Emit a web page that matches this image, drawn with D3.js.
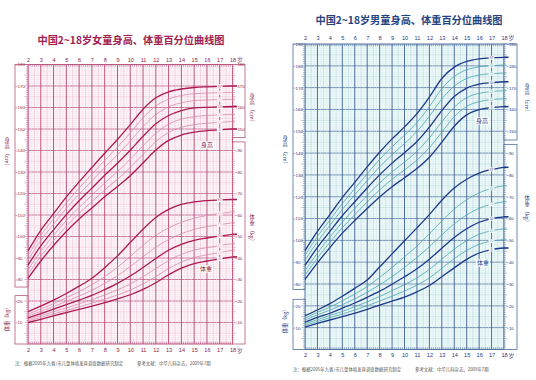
<!DOCTYPE html>
<html><head><meta charset="utf-8">
<script src="https://cdn.jsdelivr.net/npm/d3@7"></script>
<style>html,body{margin:0;padding:0;background:#fff;}svg{display:block;font-family:"Noto Sans CJK SC","Noto Sans",sans-serif;}</style>
</head><body><svg id="c" width="536" height="380"></svg>
<script>
// ---------- data ----------
const ages = [2,3,4,5,6,7,8,9,10,11,12,13,14,15,16,17,18];
const percentiles = ["3","10","25","50","75","90","97"];
const boldPercentiles = ["3","50","97"];

const girlsHeight = [
  [80.5, 88.6, 95.8,102.3,108.1,113.3,118.5,123.3,128.3,134.2,140.2,144.7,147.2,148.5,149.2,149.6,150.0],
  [82.5, 90.8, 98.1,104.8,110.8,116.2,121.6,126.7,132.1,138.2,144.1,148.4,150.8,152.0,152.7,153.1,153.5],
  [84.5, 93.1,100.6,107.4,113.5,119.2,124.9,130.2,135.9,142.2,148.0,152.2,154.6,155.7,156.3,156.6,156.8],
  [86.7, 95.6,103.1,110.2,116.6,122.5,128.5,134.1,140.1,146.6,152.4,156.3,158.6,159.8,160.1,160.3,160.5],
  [89.0, 98.2,105.7,113.1,119.7,125.9,132.1,138.0,144.4,151.1,156.7,160.3,162.2,163.2,163.5,163.7,163.8],
  [91.1,100.5,108.2,115.7,122.5,129.0,135.4,141.6,148.2,155.2,160.7,163.9,165.6,166.4,166.7,166.9,167.0],
  [93.3,102.9,110.6,118.4,125.4,132.1,138.7,145.1,152.0,159.2,164.5,167.3,168.6,169.3,169.6,169.8,170.0]
];
const girlsWeight = [
  [10.0,11.5,13.1,14.6,16.1,17.6,19.2,21.0,22.9,25.4,28.5,32.2,35.3,37.4,38.6,39.6,40.5],
  [10.7,12.4,14.0,15.6,17.3,19.0,20.8,22.8,25.1,28.0,31.4,35.1,38.1,40.2,41.5,42.5,43.6],
  [11.4,13.2,15.0,16.8,18.7,20.6,22.8,25.2,27.9,31.3,35.1,38.8,41.7,43.7,44.8,45.8,46.7],
  [12.1,14.1,16.2,18.3,20.4,22.6,25.3,28.2,31.6,35.6,39.8,43.6,46.3,48.2,49.3,50.2,51.0],
  [13.0,15.2,17.4,19.8,22.3,25.0,28.2,31.8,36.0,40.6,45.0,48.6,51.3,53.3,54.6,55.5,56.4],
  [13.9,16.3,18.8,21.5,24.4,27.6,31.4,35.7,40.7,45.9,50.5,54.0,56.6,58.5,59.8,60.7,61.5],
  [15.0,17.6,20.4,23.5,26.9,30.6,35.5,41.0,47.2,53.4,58.8,62.6,64.9,66.1,66.7,67.0,67.2]
];
const boysHeight = [
  [82.1, 89.7, 96.7,103.3,109.1,114.6,119.9,124.6,128.7,132.9,138.1,145.0,152.3,157.5,159.9,160.9,161.3],
  [84.1, 91.9, 99.1,105.8,111.8,117.6,123.1,128.0,132.3,136.8,142.5,149.6,156.7,161.4,163.6,164.5,164.9],
  [86.1, 94.2,101.4,108.4,114.6,120.6,126.3,131.4,135.9,140.8,147.0,154.3,161.0,165.4,167.4,168.2,168.6],
  [88.5, 96.8,104.1,111.3,117.7,124.0,130.0,135.4,140.2,145.3,151.9,159.5,165.9,169.8,171.6,172.3,172.7],
  [90.9, 99.4,106.9,114.2,120.9,127.4,133.7,139.3,144.4,149.9,156.9,164.8,170.7,174.2,175.8,176.4,176.7],
  [93.1,101.8,109.3,116.9,123.7,130.5,137.1,142.9,148.2,154.0,161.3,169.5,175.1,178.2,179.5,180.1,180.4],
  [95.3,104.1,111.8,119.6,126.6,133.7,140.4,146.5,152.0,158.1,165.7,174.2,179.4,182.0,183.2,183.7,183.9]
];
const boysWeight = [
  [10.2,11.9,13.5,15.0,16.6,18.4,20.3,22.1,24.0,26.4,29.3,33.3,37.4,41.3,44.2,45.8,46.5],
  [11.0,12.8,14.6,16.2,18.1,20.0,22.2,24.4,26.8,29.5,32.8,37.2,41.6,45.4,48.2,49.7,50.3],
  [11.7,13.7,15.6,17.4,19.6,21.8,24.3,26.9,29.7,32.8,36.7,41.4,46.0,49.9,52.8,54.4,55.3],
  [12.5,14.7,16.6,18.9,21.3,23.9,26.7,29.9,33.3,37.0,41.4,46.4,51.3,55.3,58.3,60.0,60.8],
  [13.5,15.9,18.0,20.5,23.2,26.2,29.6,33.4,37.6,42.1,47.1,52.5,57.6,61.7,64.7,66.6,67.7],
  [14.4,17.0,19.4,22.3,25.4,28.8,33.0,37.6,42.4,47.4,53.0,58.9,64.4,68.6,71.8,73.8,75.1],
  [15.5,18.1,21.0,24.4,28.0,31.8,37.8,43.8,49.8,55.7,61.8,68.4,74.0,78.0,80.8,82.5,83.5]
];
const girlsTitle = "中国2~18岁女童身高、体重百分位曲线图";
const boysTitle = "中国2~18岁男童身高、体重百分位曲线图";
const footNote = "注：根据2005年九省/市儿童体格发育调查数据研究制定";
const footRef = "参考文献：中华儿科杂志，2009年7期";

// ---------- drawing ----------
const svg = d3.select("#c");

function drawChart(cfg) {
  const g = svg.append("g");
  const x = d3.scaleLinear().domain([2, 18]).range([cfg.x0, cfg.x1]);
  const yH = d3.scaleLinear().domain([cfg.hBot, cfg.hTop]).range([cfg.yBot, cfg.yTop]);
  const yB = yH(50);
  const yW = d3.scaleLinear().domain([0, cfg.hTop - 50]).range([yB, cfg.yTop]);
  const c = cfg.col;

  g.append("text").attr("x", cfg.titleX).attr("y", cfg.titleY).attr("text-anchor", "middle")
    .attr("font-size", 10.2).attr("font-weight", 700).attr("fill", c.title).text(cfg.title);

  g.append("rect").attr("x", cfg.x0).attr("y", cfg.yTop).attr("width", cfg.x1 - cfg.x0)
    .attr("height", yB - cfg.yTop).attr("fill", c.bg);

  const hLines = d3.range(51, cfg.hTop);
  g.append("g").selectAll("line").data(hLines).join("line")
    .attr("x1", cfg.x0).attr("x2", cfg.x1).attr("y1", d => yH(d)).attr("y2", d => yH(d))
    .attr("stroke", d => d % 10 === 0 ? c.major : d % 5 === 0 ? c.mid : c.minor)
    .attr("stroke-width", d => d % 10 === 0 ? 0.8 : 0.5);
  const vLines = d3.range(9, 72).map(i => i / 4);
  g.append("g").selectAll("line").data(vLines).join("line")
    .attr("y1", cfg.yTop).attr("y2", yB).attr("x1", d => x(d)).attr("x2", d => x(d))
    .attr("stroke", d => Number.isInteger(d) ? c.major : (d % 1 === 0.5 ? c.mid : c.minor))
    .attr("stroke-width", d => Number.isInteger(d) ? 1 : 0.5);
  const tks = d3.range(12, 108).map(i => i / 6);
  g.append("g").selectAll("line").data(tks).join("line")
    .attr("x1", d => x(d)).attr("x2", d => x(d)).attr("y1", cfg.yTop).attr("y2", cfg.yTop + 2.2)
    .attr("stroke", c.major).attr("stroke-width", 0.6);
  g.append("g").selectAll("line").data(tks).join("line")
    .attr("x1", d => x(d)).attr("x2", d => x(d)).attr("y1", yB).attr("y2", yB - 2.2)
    .attr("stroke", c.major).attr("stroke-width", 0.6);

  g.append("rect").attr("x", cfg.x0).attr("y", cfg.yTop).attr("width", cfg.x1 - cfg.x0)
    .attr("height", yB - cfg.yTop).attr("fill", "none").attr("stroke", c.major).attr("stroke-width", 1);

  const lbx = cfg.lb0, lbw = cfg.x0 - cfg.lb0, rbx = cfg.x1, rbw = cfg.rbW;
  const boxes = [
    [lbx, cfg.yTop, lbw, yH(cfg.lHBot) - cfg.yTop],
    [lbx, yW(cfg.lWTop), lbw, yB - yW(cfg.lWTop)],
    [rbx, cfg.yTop, rbw, yH(cfg.rHBot) - cfg.yTop],
    [rbx, yW(cfg.rWTop), rbw, yB - yW(cfg.rWTop)]
  ];
  g.append("g").selectAll("rect").data(boxes).join("rect")
    .attr("x", d => d[0]).attr("y", d => d[1]).attr("width", d => d[2]).attr("height", d => d[3])
    .attr("fill", "#fff").attr("stroke", c.major).attr("stroke-width", 0.8);

  const lhT = d3.range(Math.ceil(cfg.lHBot), cfg.hTop + 1);
  g.append("g").selectAll("line").data(lhT).join("line")
    .attr("x1", cfg.x0).attr("x2", d => cfg.x0 - (d % 5 === 0 ? 3.5 : 2))
    .attr("y1", d => yH(d)).attr("y2", d => yH(d)).attr("stroke", c.major).attr("stroke-width", 0.5);
  const lwT = d3.range(1, Math.floor(cfg.lWTop) + 1);
  g.append("g").selectAll("line").data(lwT).join("line")
    .attr("x1", cfg.x0).attr("x2", d => cfg.x0 - (d % 5 === 0 ? 3.5 : 2))
    .attr("y1", d => yW(d)).attr("y2", d => yW(d)).attr("stroke", c.major).attr("stroke-width", 0.5);
  const rhT = d3.range(Math.ceil(cfg.rHBot), cfg.hTop + 1);
  g.append("g").selectAll("line").data(rhT).join("line")
    .attr("x1", cfg.x1).attr("x2", d => cfg.x1 + (d % 5 === 0 ? 3 : 1.8))
    .attr("y1", d => yH(d)).attr("y2", d => yH(d)).attr("stroke", c.major).attr("stroke-width", 0.5);
  const rwT = d3.range(1, Math.floor(cfg.rWTop) + 1);
  g.append("g").selectAll("line").data(rwT).join("line")
    .attr("x1", cfg.x1).attr("x2", d => cfg.x1 + (d % 5 === 0 ? 3 : 1.8))
    .attr("y1", d => yW(d)).attr("y2", d => yW(d)).attr("stroke", c.major).attr("stroke-width", 0.5);

  function styleAxis(sel, fs) {
    sel.select(".domain").remove();
    sel.selectAll(".tick line").attr("stroke", c.major).attr("stroke-width", 0.6);
    sel.selectAll("text").attr("font-size", fs).attr("fill", c.text).attr("font-family", "Liberation Sans, Arial, sans-serif");
  }
  const hLeftTicks = d3.range(80, cfg.hTop + 1, 10);
  g.append("g").attr("transform", `translate(${lbx + 0.6},0)`)
    .call(d3.axisRight(yH).tickValues(hLeftTicks).tickSize(1.6).tickPadding(0.4).tickFormat(d3.format("d")))
    .call(s => styleAxis(s, 4.4));
  g.append("g").attr("transform", `translate(${lbx + 0.6},0)`)
    .call(d3.axisRight(yW).tickValues([10, 20]).tickSize(1.6).tickPadding(0.4).tickFormat(d3.format("d")))
    .call(s => styleAxis(s, 4.4));
  const hRightTicks = d3.range(150, cfg.hTop + 1, 10);
  g.append("g").attr("transform", `translate(${rbx + 3},0)`)
    .call(d3.axisRight(yH).tickValues(hRightTicks).tickSize(1.5).tickPadding(0.4).tickFormat(d3.format("d")))
    .call(s => styleAxis(s, 4.4));
  g.append("g").attr("transform", `translate(${rbx + 3},0)`)
    .call(d3.axisRight(yW).tickValues(d3.range(10, 91, 10)).tickSize(1.5).tickPadding(0.4).tickFormat(d3.format("d")))
    .call(s => styleAxis(s, 4.4));

  g.append("g").attr("transform", `translate(0,${cfg.topLabY})`)
    .call(d3.axisTop(x).tickValues(ages).tickSize(0).tickPadding(0).tickFormat(d3.format("d")))
    .call(s => styleAxis(s, 5.6));
  g.append("g").attr("transform", `translate(0,${cfg.botLabY})`)
    .call(d3.axisBottom(x).tickValues(ages).tickSize(0).tickPadding(0).tickFormat(d3.format("d")))
    .call(s => styleAxis(s, 5.6));
  g.append("text").attr("x", x(18) + 4.5).attr("y", cfg.topLabY).attr("font-size", 5.8).attr("fill", c.text).text("岁");
  g.append("text").attr("x", x(18) + 4.5).attr("y", cfg.botLabY + 4.5).attr("font-size", 5.8).attr("fill", c.text).text("岁");

  const lineGen = yS => d3.line().x((d, i) => x(ages[i])).y(d => yS(d)).curve(d3.curveMonotoneX);
  const sets = [[cfg.height, yH], [cfg.weight, yW]];
  sets.forEach(([rows, yS]) => {
    rows.forEach((vals, pi) => {
      const bold = boldPercentiles.includes(percentiles[pi]);
      g.append("path").attr("d", lineGen(yS)(vals)).attr("fill", "none")
        .attr("stroke", bold ? c.bold : c.thin).attr("stroke-width", bold ? 1.3 : 0.8);
      g.append("line").attr("x1", x(18)).attr("x2", x(18) + (bold ? 4.5 : 2.5))
        .attr("y1", yS(vals[16])).attr("y2", yS(vals[16]))
        .attr("stroke", bold ? c.bold : c.thin).attr("stroke-width", bold ? 1.6 : 0.8);
      const ty = yS(vals[15]);
      g.append("rect").attr("x", x(17) - 2.8).attr("y", ty - 2).attr("width", 5.6).attr("height", 4).attr("fill", "#fff");
      g.append("text").attr("x", x(17)).attr("y", ty + 1.3).attr("text-anchor", "middle")
        .attr("font-size", 3.4).attr("fill", bold ? c.bold : c.thin).attr("font-family", "Liberation Sans, Arial, sans-serif")
        .text(percentiles[pi]);
    });
  });

  [[cfg.hLab, "身高"], [cfg.wLab, "体重"]].forEach(([p, t]) => {
    g.append("rect").attr("x", p[0] - 7).attr("y", p[1] - 3.6).attr("width", 14).attr("height", 7.2).attr("fill", "#fff");
    g.append("text").attr("x", p[0]).attr("y", p[1] + 2.1).attr("text-anchor", "middle")
      .attr("font-size", 6).attr("fill", c.text).text(t);
  });

  // vertical side titles: upright characters followed by the rotated unit
  const fs = 5.2, step = fs * 1.25;
  function vt(px, cy, chars, unit) {
    const unitLen = fs * 2 + unit.length * fs * 0.55;
    const total = chars.length * step + unitLen + 0.8;
    const y0 = cy - total / 2;
    chars.split("").forEach((ch, i) => {
      g.append("text").attr("x", px).attr("y", y0 + i * step + fs * 0.88).attr("text-anchor", "middle")
        .attr("font-size", fs).attr("fill", c.text).text(ch);
    });
    g.append("text").attr("transform", `translate(${px - fs * 0.38},${y0 + chars.length * step + 0.8}) rotate(90)`)
      .attr("font-size", fs).attr("fill", c.text).text("（" + unit + "）");
  }
  vt(cfg.rVT[0], cfg.rVT[1], "身高", "cm");
  vt(cfg.rVT[0], cfg.rVT[2], "体重", "kg");
  vt(cfg.lVT[0], cfg.lVT[1], "身高", "cm");
  g.append("text").attr("transform", `translate(${cfg.lVT[0] + 1.9},${cfg.lVT[2]}) rotate(-90)`)
    .attr("text-anchor", "middle").attr("font-size", fs).attr("fill", c.text).text("体重（kg）");

  g.append("text").attr("x", cfg.lb0).attr("y", cfg.footY).attr("font-size", 4.4).attr("fill", "#555").text(footNote);
  g.append("text").attr("x", cfg.lb0 + 122).attr("y", cfg.footY).attr("font-size", 4.4).attr("fill", "#555").text(footRef);
}

drawChart({
  title: girlsTitle, titleX: 131, titleY: 44,
  x0: 28, x1: 232.5, hTop: 180, yTop: 64.5, hBot: 80, yBot: 279.5,
  lb0: 15, lHBot: 76.5, lWTop: 22.5, rbW: 12.5, rHBot: 146, rWTop: 94,
  topLabY: 61.5, botLabY: 348.5, footY: 365,
  height: girlsHeight, weight: girlsWeight,
  hLab: [207, 145], wLab: [206, 269],
  rVT: [252, 108, 229], lVT: [7, 152, 318],
  col: { bold: "#ad1a52", thin: "#d98cae", major: "#b9577f", mid: "#e8b6ca", minor: "#f6dee8",
         bg: "#fdf7fa", text: "#8e1d47", title: "#a0204f" }
});
drawChart({
  title: boysTitle, titleX: 409, titleY: 24,
  x0: 305, x1: 504, hTop: 190, yTop: 44, hBot: 80, yBot: 284,
  lb0: 293, lHBot: 77.5, lWTop: 23, rbW: 13, rHBot: 146, rWTop: 94,
  topLabY: 40, botLabY: 353.5, footY: 371,
  height: boysHeight, weight: boysWeight,
  hLab: [482, 121], wLab: [483, 263],
  rVT: [527, 98, 210], lVT: [285, 150, 320],
  col: { bold: "#1c3a8a", thin: "#47a6ae", major: "#4d6f9f", mid: "#a8d2d9", minor: "#d2ecef",
         bg: "#f2fafa", text: "#24407f", title: "#25427f" }
});
</script></body></html>
